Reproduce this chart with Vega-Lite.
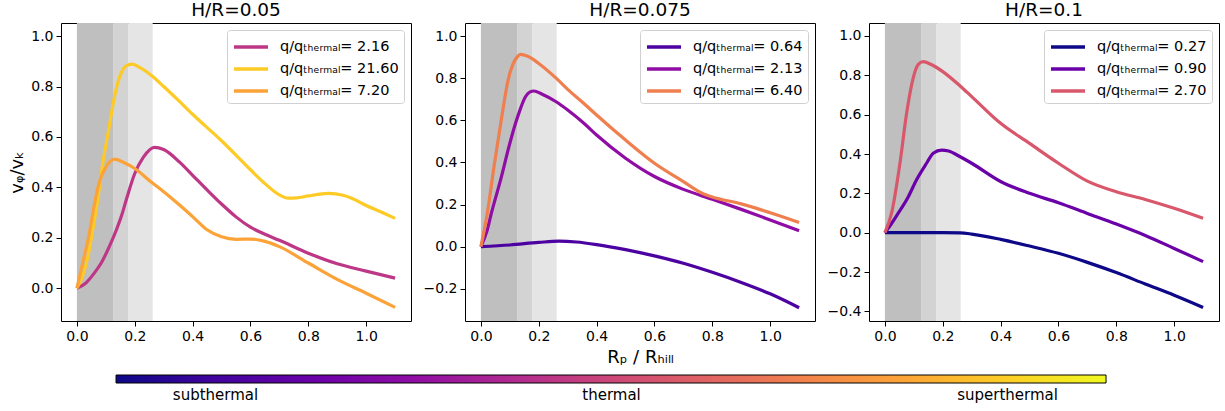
{
  "$schema": "https://vega.github.io/schema/vega-lite/v6.json",
  "background": "white",
  "padding": {"left": 8, "top": 0, "right": 5, "bottom": 2},
  "config": {
    "font": "DejaVu Sans",
    "view": {"stroke": "black", "strokeWidth": 1},
    "axis": {
      "domain": false, "grid": false, "ticks": true, "tickColor": "black", "tickSize": 5, "tickWidth": 1,
      "labelColor": "black", "labelFontSize": 14, "labelFont": "DejaVu Sans", "labelPadding": 3, "labelFlush": false,
      "titleFont": "DejaVu Sans", "titleFontWeight": "normal", "titleFontSize": 18, "titleColor": "black"
    },
    "title": {"fontSize": 18.5, "fontWeight": "normal", "font": "DejaVu Sans", "color": "black", "offset": 4},
    "legend": {
      "orient": "top-right", "offset": 7, "title": null, "padding": 5, "rowPadding": 3,
      "fillColor": "white", "strokeColor": "#d0d0d0", "cornerRadius": 3,
      "labelFontSize": 14.5, "labelFont": "DejaVu Sans", "labelColor": "black", "labelOffset": 24, "labelLimit": 300,
      "symbolType": "M-1,0H2.4", "symbolSize": 400, "symbolStrokeWidth": 3.5
    }
  },
  "datasets": {
    "bands": [
      {"band": "inner", "lo": 0, "hi": 0.125},
      {"band": "middle", "lo": 0.125, "hi": 0.177},
      {"band": "outer", "lo": 0.177, "hi": 0.262}
    ],
    "bar": [{"lo": 0, "hi": 1}],
    "curves": [
      {"panel": "a", "q": "2.16", "x": 0, "v": 0},
      {"panel": "a", "q": "2.16", "x": 0.03, "v": 0.02},
      {"panel": "a", "q": "2.16", "x": 0.06, "v": 0.06},
      {"panel": "a", "q": "2.16", "x": 0.084, "v": 0.1},
      {"panel": "a", "q": "2.16", "x": 0.11, "v": 0.16},
      {"panel": "a", "q": "2.16", "x": 0.136, "v": 0.23},
      {"panel": "a", "q": "2.16", "x": 0.155, "v": 0.29},
      {"panel": "a", "q": "2.16", "x": 0.173, "v": 0.36},
      {"panel": "a", "q": "2.16", "x": 0.2, "v": 0.455},
      {"panel": "a", "q": "2.16", "x": 0.23, "v": 0.52},
      {"panel": "a", "q": "2.16", "x": 0.268, "v": 0.559},
      {"panel": "a", "q": "2.16", "x": 0.3, "v": 0.55},
      {"panel": "a", "q": "2.16", "x": 0.355, "v": 0.5},
      {"panel": "a", "q": "2.16", "x": 0.4, "v": 0.448},
      {"panel": "a", "q": "2.16", "x": 0.45, "v": 0.39},
      {"panel": "a", "q": "2.16", "x": 0.5, "v": 0.334},
      {"panel": "a", "q": "2.16", "x": 0.55, "v": 0.283},
      {"panel": "a", "q": "2.16", "x": 0.6, "v": 0.242},
      {"panel": "a", "q": "2.16", "x": 0.65, "v": 0.214},
      {"panel": "a", "q": "2.16", "x": 0.7, "v": 0.19},
      {"panel": "a", "q": "2.16", "x": 0.8, "v": 0.139},
      {"panel": "a", "q": "2.16", "x": 0.9, "v": 0.097},
      {"panel": "a", "q": "2.16", "x": 1.0, "v": 0.068},
      {"panel": "a", "q": "2.16", "x": 1.1, "v": 0.04},

      {"panel": "a", "q": "21.60", "x": 0, "v": 0},
      {"panel": "a", "q": "21.60", "x": 0.02, "v": 0.05},
      {"panel": "a", "q": "21.60", "x": 0.035, "v": 0.11},
      {"panel": "a", "q": "21.60", "x": 0.05, "v": 0.2},
      {"panel": "a", "q": "21.60", "x": 0.073, "v": 0.36},
      {"panel": "a", "q": "21.60", "x": 0.09, "v": 0.5},
      {"panel": "a", "q": "21.60", "x": 0.11, "v": 0.63},
      {"panel": "a", "q": "21.60", "x": 0.13, "v": 0.76},
      {"panel": "a", "q": "21.60", "x": 0.15, "v": 0.845},
      {"panel": "a", "q": "21.60", "x": 0.17, "v": 0.882},
      {"panel": "a", "q": "21.60", "x": 0.19, "v": 0.889},
      {"panel": "a", "q": "21.60", "x": 0.22, "v": 0.874},
      {"panel": "a", "q": "21.60", "x": 0.26, "v": 0.842},
      {"panel": "a", "q": "21.60", "x": 0.3, "v": 0.8},
      {"panel": "a", "q": "21.60", "x": 0.35, "v": 0.746},
      {"panel": "a", "q": "21.60", "x": 0.4, "v": 0.69},
      {"panel": "a", "q": "21.60", "x": 0.5, "v": 0.585},
      {"panel": "a", "q": "21.60", "x": 0.6, "v": 0.47},
      {"panel": "a", "q": "21.60", "x": 0.65, "v": 0.415},
      {"panel": "a", "q": "21.60", "x": 0.7, "v": 0.37},
      {"panel": "a", "q": "21.60", "x": 0.73, "v": 0.357},
      {"panel": "a", "q": "21.60", "x": 0.76, "v": 0.358},
      {"panel": "a", "q": "21.60", "x": 0.8, "v": 0.366},
      {"panel": "a", "q": "21.60", "x": 0.87, "v": 0.376},
      {"panel": "a", "q": "21.60", "x": 0.92, "v": 0.369},
      {"panel": "a", "q": "21.60", "x": 0.95, "v": 0.357},
      {"panel": "a", "q": "21.60", "x": 1.0, "v": 0.328},
      {"panel": "a", "q": "21.60", "x": 1.05, "v": 0.303},
      {"panel": "a", "q": "21.60", "x": 1.1, "v": 0.277},

      {"panel": "a", "q": "7.20", "x": 0, "v": 0},
      {"panel": "a", "q": "7.20", "x": 0.02, "v": 0.1},
      {"panel": "a", "q": "7.20", "x": 0.04, "v": 0.2},
      {"panel": "a", "q": "7.20", "x": 0.065, "v": 0.36},
      {"panel": "a", "q": "7.20", "x": 0.08, "v": 0.43},
      {"panel": "a", "q": "7.20", "x": 0.1, "v": 0.48},
      {"panel": "a", "q": "7.20", "x": 0.115, "v": 0.503},
      {"panel": "a", "q": "7.20", "x": 0.13, "v": 0.512},
      {"panel": "a", "q": "7.20", "x": 0.16, "v": 0.5},
      {"panel": "a", "q": "7.20", "x": 0.2, "v": 0.475},
      {"panel": "a", "q": "7.20", "x": 0.26, "v": 0.418},
      {"panel": "a", "q": "7.20", "x": 0.3, "v": 0.383},
      {"panel": "a", "q": "7.20", "x": 0.355, "v": 0.33},
      {"panel": "a", "q": "7.20", "x": 0.4, "v": 0.284},
      {"panel": "a", "q": "7.20", "x": 0.45, "v": 0.232},
      {"panel": "a", "q": "7.20", "x": 0.5, "v": 0.204},
      {"panel": "a", "q": "7.20", "x": 0.55, "v": 0.194},
      {"panel": "a", "q": "7.20", "x": 0.6, "v": 0.195},
      {"panel": "a", "q": "7.20", "x": 0.65, "v": 0.186},
      {"panel": "a", "q": "7.20", "x": 0.7, "v": 0.165},
      {"panel": "a", "q": "7.20", "x": 0.8, "v": 0.1},
      {"panel": "a", "q": "7.20", "x": 0.9, "v": 0.035},
      {"panel": "a", "q": "7.20", "x": 1.0, "v": -0.02},
      {"panel": "a", "q": "7.20", "x": 1.1, "v": -0.076},

      {"panel": "b", "q": "0.64", "x": 0, "v": 0},
      {"panel": "b", "q": "0.64", "x": 0.1, "v": 0.008},
      {"panel": "b", "q": "0.64", "x": 0.2, "v": 0.02},
      {"panel": "b", "q": "0.64", "x": 0.27, "v": 0.026},
      {"panel": "b", "q": "0.64", "x": 0.33, "v": 0.022},
      {"panel": "b", "q": "0.64", "x": 0.4, "v": 0.01},
      {"panel": "b", "q": "0.64", "x": 0.5, "v": -0.014},
      {"panel": "b", "q": "0.64", "x": 0.6, "v": -0.044},
      {"panel": "b", "q": "0.64", "x": 0.7, "v": -0.079},
      {"panel": "b", "q": "0.64", "x": 0.8, "v": -0.122},
      {"panel": "b", "q": "0.64", "x": 0.9, "v": -0.17},
      {"panel": "b", "q": "0.64", "x": 1.0, "v": -0.224},
      {"panel": "b", "q": "0.64", "x": 1.1, "v": -0.29},

      {"panel": "b", "q": "2.13", "x": 0, "v": 0},
      {"panel": "b", "q": "2.13", "x": 0.02, "v": 0.07},
      {"panel": "b", "q": "2.13", "x": 0.036, "v": 0.158},
      {"panel": "b", "q": "2.13", "x": 0.068, "v": 0.317},
      {"panel": "b", "q": "2.13", "x": 0.097, "v": 0.475},
      {"panel": "b", "q": "2.13", "x": 0.115, "v": 0.565},
      {"panel": "b", "q": "2.13", "x": 0.131, "v": 0.633},
      {"panel": "b", "q": "2.13", "x": 0.154, "v": 0.712},
      {"panel": "b", "q": "2.13", "x": 0.17, "v": 0.735},
      {"panel": "b", "q": "2.13", "x": 0.183, "v": 0.739},
      {"panel": "b", "q": "2.13", "x": 0.21, "v": 0.725},
      {"panel": "b", "q": "2.13", "x": 0.26, "v": 0.688},
      {"panel": "b", "q": "2.13", "x": 0.3, "v": 0.649},
      {"panel": "b", "q": "2.13", "x": 0.356, "v": 0.586},
      {"panel": "b", "q": "2.13", "x": 0.4, "v": 0.53},
      {"panel": "b", "q": "2.13", "x": 0.5, "v": 0.42},
      {"panel": "b", "q": "2.13", "x": 0.6, "v": 0.333},
      {"panel": "b", "q": "2.13", "x": 0.7, "v": 0.272},
      {"panel": "b", "q": "2.13", "x": 0.8, "v": 0.225},
      {"panel": "b", "q": "2.13", "x": 0.9, "v": 0.177},
      {"panel": "b", "q": "2.13", "x": 1.0, "v": 0.127},
      {"panel": "b", "q": "2.13", "x": 1.1, "v": 0.076},

      {"panel": "b", "q": "6.40", "x": 0, "v": 0},
      {"panel": "b", "q": "6.40", "x": 0.022, "v": 0.158},
      {"panel": "b", "q": "6.40", "x": 0.047, "v": 0.396},
      {"panel": "b", "q": "6.40", "x": 0.074, "v": 0.633},
      {"panel": "b", "q": "6.40", "x": 0.094, "v": 0.791},
      {"panel": "b", "q": "6.40", "x": 0.112, "v": 0.87},
      {"panel": "b", "q": "6.40", "x": 0.125, "v": 0.9},
      {"panel": "b", "q": "6.40", "x": 0.137, "v": 0.913},
      {"panel": "b", "q": "6.40", "x": 0.16, "v": 0.905},
      {"panel": "b", "q": "6.40", "x": 0.2, "v": 0.87},
      {"panel": "b", "q": "6.40", "x": 0.26, "v": 0.8},
      {"panel": "b", "q": "6.40", "x": 0.3, "v": 0.747},
      {"panel": "b", "q": "6.40", "x": 0.356, "v": 0.68},
      {"panel": "b", "q": "6.40", "x": 0.4, "v": 0.625},
      {"panel": "b", "q": "6.40", "x": 0.5, "v": 0.506},
      {"panel": "b", "q": "6.40", "x": 0.6, "v": 0.396},
      {"panel": "b", "q": "6.40", "x": 0.7, "v": 0.309},
      {"panel": "b", "q": "6.40", "x": 0.77, "v": 0.25},
      {"panel": "b", "q": "6.40", "x": 0.8, "v": 0.236},
      {"panel": "b", "q": "6.40", "x": 0.9, "v": 0.203},
      {"panel": "b", "q": "6.40", "x": 1.0, "v": 0.161},
      {"panel": "b", "q": "6.40", "x": 1.1, "v": 0.115},

      {"panel": "c", "q": "0.27", "x": 0, "v": 0},
      {"panel": "c", "q": "0.27", "x": 0.1, "v": 0.0},
      {"panel": "c", "q": "0.27", "x": 0.2, "v": 0.0},
      {"panel": "c", "q": "0.27", "x": 0.26, "v": -0.001},
      {"panel": "c", "q": "0.27", "x": 0.3, "v": -0.007},
      {"panel": "c", "q": "0.27", "x": 0.4, "v": -0.034},
      {"panel": "c", "q": "0.27", "x": 0.5, "v": -0.068},
      {"panel": "c", "q": "0.27", "x": 0.6, "v": -0.105},
      {"panel": "c", "q": "0.27", "x": 0.7, "v": -0.151},
      {"panel": "c", "q": "0.27", "x": 0.8, "v": -0.203},
      {"panel": "c", "q": "0.27", "x": 0.9, "v": -0.261},
      {"panel": "c", "q": "0.27", "x": 1.0, "v": -0.318},
      {"panel": "c", "q": "0.27", "x": 1.1, "v": -0.38},

      {"panel": "c", "q": "0.90", "x": 0, "v": 0},
      {"panel": "c", "q": "0.90", "x": 0.02, "v": 0.04},
      {"panel": "c", "q": "0.90", "x": 0.046, "v": 0.099},
      {"panel": "c", "q": "0.90", "x": 0.081, "v": 0.183},
      {"panel": "c", "q": "0.90", "x": 0.109, "v": 0.268},
      {"panel": "c", "q": "0.90", "x": 0.144, "v": 0.353},
      {"panel": "c", "q": "0.90", "x": 0.167, "v": 0.404},
      {"panel": "c", "q": "0.90", "x": 0.196, "v": 0.42},
      {"panel": "c", "q": "0.90", "x": 0.22, "v": 0.415},
      {"panel": "c", "q": "0.90", "x": 0.26, "v": 0.386},
      {"panel": "c", "q": "0.90", "x": 0.3, "v": 0.353},
      {"panel": "c", "q": "0.90", "x": 0.4, "v": 0.26},
      {"panel": "c", "q": "0.90", "x": 0.5, "v": 0.2},
      {"panel": "c", "q": "0.90", "x": 0.6, "v": 0.152},
      {"panel": "c", "q": "0.90", "x": 0.7, "v": 0.098},
      {"panel": "c", "q": "0.90", "x": 0.8, "v": 0.044},
      {"panel": "c", "q": "0.90", "x": 0.9, "v": -0.014},
      {"panel": "c", "q": "0.90", "x": 1.0, "v": -0.08},
      {"panel": "c", "q": "0.90", "x": 1.1, "v": -0.147},

      {"panel": "c", "q": "2.70", "x": 0, "v": 0},
      {"panel": "c", "q": "2.70", "x": 0.023, "v": 0.099},
      {"panel": "c", "q": "2.70", "x": 0.052, "v": 0.353},
      {"panel": "c", "q": "2.70", "x": 0.075, "v": 0.607},
      {"panel": "c", "q": "2.70", "x": 0.096, "v": 0.776},
      {"panel": "c", "q": "2.70", "x": 0.115, "v": 0.855},
      {"panel": "c", "q": "2.70", "x": 0.132, "v": 0.87},
      {"panel": "c", "q": "2.70", "x": 0.16, "v": 0.855},
      {"panel": "c", "q": "2.70", "x": 0.2, "v": 0.819},
      {"panel": "c", "q": "2.70", "x": 0.26, "v": 0.746},
      {"panel": "c", "q": "2.70", "x": 0.3, "v": 0.692},
      {"panel": "c", "q": "2.70", "x": 0.4, "v": 0.556},
      {"panel": "c", "q": "2.70", "x": 0.5, "v": 0.454},
      {"panel": "c", "q": "2.70", "x": 0.6, "v": 0.353},
      {"panel": "c", "q": "2.70", "x": 0.7, "v": 0.262},
      {"panel": "c", "q": "2.70", "x": 0.8, "v": 0.208},
      {"panel": "c", "q": "2.70", "x": 0.9, "v": 0.169},
      {"panel": "c", "q": "2.70", "x": 1.0, "v": 0.124},
      {"panel": "c", "q": "2.70", "x": 1.1, "v": 0.073}
    ]
  },
  "vconcat": [
    {
      "hconcat": [
        {
          "width": 350, "height": 298,
          "title": "H/R=0.05",
          "layer": [
            {
              "data": {"name": "bands"},
              "mark": {"type": "rect"},
              "encoding": {
                "x": {"field": "lo", "type": "quantitative", "scale": {"domain": [-0.055, 1.155], "nice": false, "zero": false},
                      "axis": {"values": [0, 0.2, 0.4, 0.6, 0.8, 1.0], "format": ".1f", "title": null}},
                "x2": {"field": "hi"},
                "fill": {"field": "band", "type": "nominal", "scale": {"domain": ["inner", "middle", "outer"], "range": ["#bfbfbf", "#d3d3d3", "#e5e5e5"]}, "legend": null}
              }
            },
            {
              "data": {"name": "curves"},
              "transform": [{"filter": "datum.panel == 'a'"}],
              "mark": {"type": "line", "interpolate": "monotone", "strokeWidth": 3.2, "clip": true},
              "encoding": {
                "x": {"field": "x", "type": "quantitative"},
                "y": {"field": "v", "type": "quantitative", "scale": {"domain": [-0.13, 1.052], "nice": false, "zero": false},
                      "axis": {"values": [0, 0.2, 0.4, 0.6, 0.8, 1.0], "format": ".1f", "title": "vᵩ/vₖ", "titlePadding": 4}},
                "stroke": {"field": "q", "type": "nominal",
                           "scale": {"domain": ["2.16", "21.60", "7.20"], "range": ["#bd3786", "#fdca26", "#fba238"]},
                           "legend": {"labelExpr": "'q/qₜₕₑᵣₘₐₗ= ' + datum.label"}}
              }
            }
          ]
        },
        {
          "width": 350, "height": 298,
          "title": "H/R=0.075",
          "layer": [
            {
              "data": {"name": "bands"},
              "mark": {"type": "rect"},
              "encoding": {
                "x": {"field": "lo", "type": "quantitative", "scale": {"domain": [-0.055, 1.155], "nice": false, "zero": false},
                      "axis": {"values": [0, 0.2, 0.4, 0.6, 0.8, 1.0], "format": ".1f", "title": "Rₚ / Rₕᵢₗₗ", "titlePadding": 5}},
                "x2": {"field": "hi"},
                "fill": {"field": "band", "type": "nominal", "scale": {"domain": ["inner", "middle", "outer"], "range": ["#bfbfbf", "#d3d3d3", "#e5e5e5"]}, "legend": null}
              }
            },
            {
              "data": {"name": "curves"},
              "transform": [{"filter": "datum.panel == 'b'"}],
              "mark": {"type": "line", "interpolate": "monotone", "strokeWidth": 3.2, "clip": true},
              "encoding": {
                "x": {"field": "x", "type": "quantitative"},
                "y": {"field": "v", "type": "quantitative", "scale": {"domain": [-0.353, 1.062], "nice": false, "zero": false},
                      "axis": {"values": [-0.2, 0, 0.2, 0.4, 0.6, 0.8, 1.0], "format": ".1f", "title": null}},
                "stroke": {"field": "q", "type": "nominal",
                           "scale": {"domain": ["0.64", "2.13", "6.40"], "range": ["#4c02a1", "#8f0da4", "#f07f4f"]},
                           "legend": {"labelExpr": "'q/qₜₕₑᵣₘₐₗ= ' + datum.label"}}
              }
            }
          ]
        },
        {
          "width": 350, "height": 298,
          "title": "H/R=0.1",
          "layer": [
            {
              "data": {"name": "bands"},
              "mark": {"type": "rect"},
              "encoding": {
                "x": {"field": "lo", "type": "quantitative", "scale": {"domain": [-0.055, 1.155], "nice": false, "zero": false},
                      "axis": {"values": [0, 0.2, 0.4, 0.6, 0.8, 1.0], "format": ".1f", "title": null}},
                "x2": {"field": "hi"},
                "fill": {"field": "band", "type": "nominal", "scale": {"domain": ["inner", "middle", "outer"], "range": ["#bfbfbf", "#d3d3d3", "#e5e5e5"]}, "legend": null}
              }
            },
            {
              "data": {"name": "curves"},
              "transform": [{"filter": "datum.panel == 'c'"}],
              "mark": {"type": "line", "interpolate": "monotone", "strokeWidth": 3.2, "clip": true},
              "encoding": {
                "x": {"field": "x", "type": "quantitative"},
                "y": {"field": "v", "type": "quantitative", "scale": {"domain": [-0.449, 1.066], "nice": false, "zero": false},
                      "axis": {"values": [-0.4, -0.2, 0, 0.2, 0.4, 0.6, 0.8, 1.0], "format": ".1f", "title": null}},
                "stroke": {"field": "q", "type": "nominal",
                           "scale": {"domain": ["0.27", "0.90", "2.70"], "range": ["#0d0887", "#6a00a8", "#d8576b"]},
                           "legend": {"labelExpr": "'q/qₜₕₑᵣₘₐₗ= ' + datum.label"}}
              }
            }
          ]
        }
      ],
      "spacing": 54,
      "bounds": "flush",
      "resolve": {
        "scale": {"stroke": "independent", "fill": "independent", "x": "independent", "y": "independent"},
        "legend": {"stroke": "independent"}
      }
    },
    {
      "width": 1157, "height": 8,
      "view": {"stroke": null},
      "data": {"name": "bar"},
      "mark": {
        "type": "rect", "stroke": "black", "strokeWidth": 1,
        "fill": {"gradient": "linear", "x1": 0, "x2": 1, "y1": 0, "y2": 0, "stops": [
          {"offset": 0.0, "color": "#0d0887"},
          {"offset": 0.1, "color": "#41049d"},
          {"offset": 0.2, "color": "#6a00a8"},
          {"offset": 0.3, "color": "#8f0da4"},
          {"offset": 0.4, "color": "#b12a90"},
          {"offset": 0.5, "color": "#cc4778"},
          {"offset": 0.6, "color": "#e16462"},
          {"offset": 0.7, "color": "#f2844b"},
          {"offset": 0.8, "color": "#fca636"},
          {"offset": 0.9, "color": "#fcce25"},
          {"offset": 1.0, "color": "#f0f921"}
        ]}
      },
      "encoding": {
        "x": {"field": "lo", "type": "quantitative", "scale": {"domain": [-0.0556, 1.1131], "nice": false, "zero": false},
              "axis": {"values": [0.1, 0.5, 0.9], "ticks": false, "title": null, "labelFontSize": 15, "labelPadding": 4,
                       "labelExpr": "datum.value == 0.1 ? 'subthermal' : datum.value == 0.5 ? 'thermal' : 'superthermal'"}},
        "x2": {"field": "hi"}
      }
    }
  ],
  "spacing": 7,
  "resolve": {"scale": {"x": "independent"}}
}
